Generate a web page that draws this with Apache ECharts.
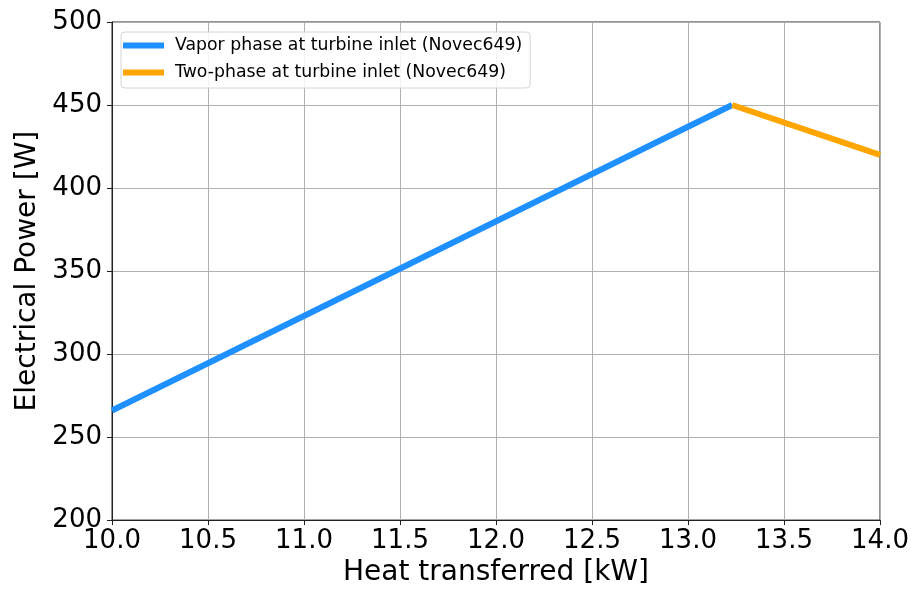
<!DOCTYPE html>
<html>
<head>
<meta charset="utf-8">
<script src="https://cdn.jsdelivr.net/npm/echarts@6/dist/echarts.min.js"></script>
<style>
  html, body { margin: 0; padding: 0; background: #fff; }
  #chart { width: 915px; height: 592px; }
</style>
</head>
<body>
<div id="chart"></div>
<script>
// Operating curves of the ORC (Novec649): electrical output vs heat input
const seriesNames = [
  'Vapor phase at turbine inlet (Novec649)',
  'Two-phase at turbine inlet (Novec649)'
];
const vaporHeat = [10.0, 13.23];
const vaporPower = [266, 450];
const twoPhaseHeat = [13.23, 14.0];
const twoPhasePower = [450, 420];

const xTitle = 'Heat transferred [kW]';
const yTitle = 'Electrical Power [W]';

const pairs = (xs, ys) => xs.map((x, i) => [x, ys[i]]);

const font = 'DejaVu Sans';
const chart = echarts.init(document.getElementById('chart'), null, { renderer: 'canvas' });

chart.setOption({
  backgroundColor: '#ffffff',
  animation: false,
  textStyle: { fontFamily: font, color: '#000' },
  grid: {
    left: 112, right: 35, top: 22, bottom: 70,
    show: true, borderColor: '#222', borderWidth: 1, backgroundColor: 'transparent'
  },
  legend: {
    orient: 'vertical',
    left: 121, top: 32,
    padding: [5, 8, 7, 2],
    itemGap: 10,
    itemWidth: 41, itemHeight: 6,
    icon: 'rect',
    backgroundColor: 'rgba(255,255,255,0.85)',
    borderColor: '#d6d6d6', borderWidth: 1, borderRadius: 4,
    textStyle: { fontFamily: font, fontSize: 17.3, color: '#000', padding: [0, 0, 0, 6] },
    data: seriesNames
  },
  xAxis: {
    type: 'value',
    min: 10, max: 14, interval: 0.5,
    name: xTitle, nameLocation: 'middle', nameGap: 38,
    nameTextStyle: { fontFamily: font, fontSize: 28, color: '#000' },
    axisLine: { show: true, onZero: false, lineStyle: { color: '#222', width: 1 } },
    axisTick: { show: true, inside: false, length: 5, lineStyle: { color: '#222', width: 1 } },
    axisLabel: {
      fontFamily: font, fontSize: 26, color: '#000', margin: 8,
      formatter: v => v.toFixed(1)
    },
    splitLine: { show: true, lineStyle: { color: '#b0b0b0', width: 1 } }
  },
  yAxis: {
    type: 'value',
    min: 200, max: 500, interval: 50,
    name: yTitle, nameLocation: 'middle', nameGap: 68,
    nameTextStyle: { fontFamily: font, fontSize: 28, color: '#000' },
    axisLine: { show: true, onZero: false, lineStyle: { color: '#222', width: 1 } },
    axisTick: { show: true, inside: false, length: 5, lineStyle: { color: '#222', width: 1 } },
    axisLabel: { fontFamily: font, fontSize: 26, color: '#000', margin: 10 },
    splitLine: { show: true, lineStyle: { color: '#b0b0b0', width: 1 } }
  },
  series: [
    {
      name: seriesNames[0],
      type: 'line',
      data: pairs(vaporHeat, vaporPower),
      showSymbol: false,
      color: '#1e90ff',
      lineStyle: { color: '#1e90ff', width: 6, cap: 'butt' },
      z: 3
    },
    {
      name: seriesNames[1],
      type: 'line',
      data: pairs(twoPhaseHeat, twoPhasePower),
      showSymbol: false,
      color: '#ffa500',
      lineStyle: { color: '#ffa500', width: 6, cap: 'butt' },
      z: 4
    }
  ]
});
</script>
</body>
</html>
